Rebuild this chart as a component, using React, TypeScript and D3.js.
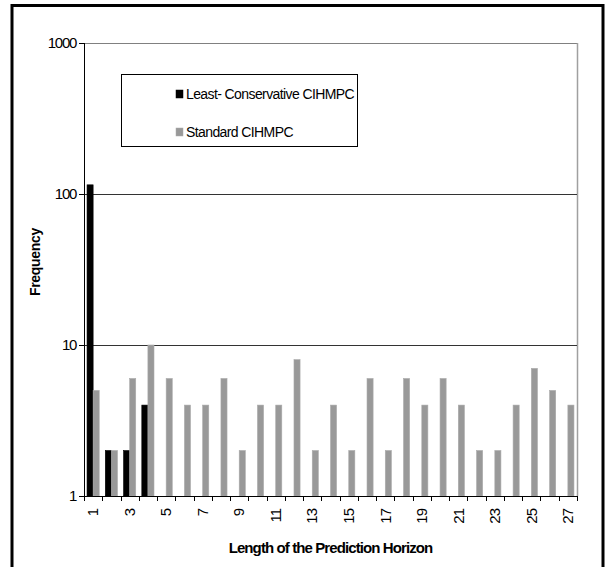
import React from "react";
import * as d3 from "d3";

const categories: string[] = Array.from({ length: 27 }, (_, i) => String(i + 1));
const seriesNames = ["Least- Conservative CIHMPC", "Standard CIHMPC"];
const leastConservative = [115, 2, 2, 4, 0, 0, 0, 0, 0, 0, 0, 0, 0, 0, 0, 0, 0, 0, 0, 0, 0, 0, 0, 0, 0, 0, 0];
const standard = [5, 2, 6, 10, 6, 4, 4, 6, 2, 4, 4, 8, 2, 4, 2, 6, 2, 6, 4, 6, 4, 2, 2, 4, 7, 5, 4];
const yTicks = [1, 10, 100, 1000];
const colors = ["#000000", "#999999"];

const W = 611;
const H = 567;
const left = 84;
const right = 577;
const top = 43;
const bottom = 496;
const FONT = "'Liberation Sans', Arial, sans-serif";

export default function App() {
  const x = d3.scaleBand<string>().domain(categories).range([left, right]).padding(0);
  const bw = x.bandwidth();
  const xs = d3.scaleBand<string>().domain(seriesNames).range([bw / 6, (bw * 5) / 6]).padding(0);
  const y = d3.scaleLog().domain([1, 1000]).range([bottom, top]);
  const seriesData = [leastConservative, standard];

  return (
    <svg width={W} height={H} style={{ position: "absolute", left: 0, top: 0, background: "#fff" }} fontFamily={FONT}>
      <rect x={0} y={0} width={W} height={H} fill="#fff" />
      {/* plot frame */}
      <line x1={left} x2={right} y1={top + 0.5} y2={top + 0.5} stroke="#808080" strokeWidth={1} />
      <line x1={right + 0.5} x2={right + 0.5} y1={top} y2={bottom} stroke="#a0a0a0" strokeWidth={1.5} />
      {/* gridlines */}
      {yTicks.slice(1, 3).map((t) => (
        <line key={t} x1={left} x2={right} y1={Math.round(y(t)) + 0.5} y2={Math.round(y(t)) + 0.5} stroke="#333" strokeWidth={1} />
      ))}
      {/* bars */}
      {seriesData.map((vals, si) =>
        vals.map((v, i) =>
          v > 0 ? (
            <rect
              key={`${si}-${i}`}
              x={(x(categories[i]) as number) + (xs(seriesNames[si]) as number)}
              y={y(v)}
              width={xs.bandwidth()}
              height={bottom - y(v)}
              fill={colors[si]}
              stroke={si === 0 ? "#000" : "#aaaaaa"}
              strokeWidth={0.6}
            />
          ) : null
        )
      )}
      {/* y axis */}
      <line x1={left + 0.5} x2={left + 0.5} y1={top} y2={bottom} stroke="#000" strokeWidth={1} />
      {yTicks.map((t) => (
        <g key={t}>
          <line x1={left - 5} x2={left} y1={Math.round(y(t)) + 0.5} y2={Math.round(y(t)) + 0.5} stroke="#000" />
          <text x={left - 8} y={y(t)} dy="0.35em" textAnchor="end" fontSize={15} letterSpacing={-1.3} fill="#000">
            {t}
          </text>
        </g>
      ))}
      {/* x axis */}
      <line x1={left} x2={right} y1={bottom + 0.5} y2={bottom + 0.5} stroke="#000" />
      {d3.range(categories.length + 1).map((i) => {
        const xx = Math.round(left + i * bw) + 0.5;
        return <line key={i} x1={xx} x2={xx} y1={bottom} y2={bottom + 5} stroke="#000" />;
      })}
      {categories.map((c, i) =>
        i % 2 === 0 ? (
          <text
            key={c}
            transform={`translate(${(x(c) as number) + bw / 2},${bottom + 13}) rotate(-90)`}
            textAnchor="end"
            dy="0.35em"
            fontSize={15}
            letterSpacing={-1}
            fill="#000"
          >
            {c}
          </text>
        ) : null
      )}
      {/* axis titles */}
      <text x={(left + right) / 2} y={553} textAnchor="middle" fontSize={15} fontWeight="bold" letterSpacing={-0.9} fill="#000">
        Length of the Prediction Horizon
      </text>
      <text transform={`translate(40,262) rotate(-90)`} textAnchor="middle" fontSize={14} fontWeight="bold" letterSpacing={-0.3} fill="#000">
        Frequency
      </text>
      {/* legend */}
      <rect x={121.5} y={74.5} width={236} height={72} fill="#fff" stroke="#000" strokeWidth={1} />
      {seriesNames.map((s, i) => (
        <g key={s}>
          <rect x={176} y={(i === 0 ? 94 : 132) - 4} width={7} height={8} fill={colors[i]} stroke={i === 0 ? "#000" : "#aaa"} strokeWidth={0.5} />
          <text x={186} y={i === 0 ? 94 : 132} dy="0.35em" fontSize={14} letterSpacing={-0.6} fill="#000">
            {s}
          </text>
        </g>
      ))}
      {/* outer border */}
      <rect x={12} y={5.5} width={591} height={620} fill="none" stroke="#000" strokeWidth={3} />
    </svg>
  );
}
